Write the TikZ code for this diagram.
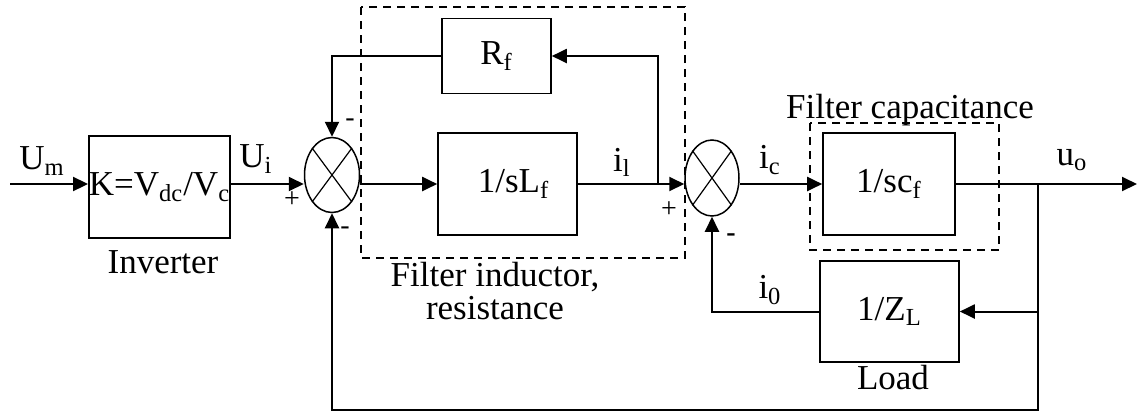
\documentclass[tikz,border=0pt]{standalone}
\usepackage{fontspec}
\setmainfont{Liberation Serif}
\usetikzlibrary{arrows.meta,shapes.geometric}
\begin{document}
\begin{tikzpicture}[x=0.5pt,y=-0.5pt,
  blk/.style={draw,line width=0.8pt,inner sep=0pt,align=center,font=\fontsize{17.5}{20}\selectfont},
  sumj/.style={draw,ellipse,line width=0.75pt,inner sep=0pt},
  lbl/.style={inner sep=0pt,font=\fontsize{17.5}{20}\selectfont},
  sgn/.style={inner sep=0pt,font=\fontsize{14}{16}\selectfont},
  dbox/.style={draw,line width=0.8pt,dash pattern=on 4pt off 3pt},
  con/.style={line width=1pt},
  arr/.style={con,-{Triangle[length=7.5pt,width=7pt]}}]
\useasboundingbox (0,0) rectangle (1137,414);
% dashed groups
\draw[dbox] (361,7) rectangle (685,258);
\draw[dbox] (810,123) rectangle (999,250);
% blocks
\node[blk,minimum width=67.5pt,minimum height=51pt] (inv) at (159.5,187) {K=V\textsubscript{dc}/V\textsubscript{c}};
\node[sumj,minimum width=27.5pt,minimum height=37.5pt] (s1) at (332,175) {};
\node[blk,minimum width=54.5pt,minimum height=37.5pt] (rf) at (496.5,56) {R\textsubscript{f}};
\node[blk,minimum width=69.5pt,minimum height=51pt] (lf) at (507.5,184) {\hspace{6pt}1/sL\textsubscript{f}};
\node[sumj,minimum width=27pt,minimum height=38pt] (s2) at (712,178) {};
\node[blk,minimum width=66pt,minimum height=51pt] (cf) at (889,184) {1/sc\textsubscript{f}};
\node[blk,minimum width=69.5pt,minimum height=50.5pt] (zl) at (889.5,311.5) {1/Z\textsubscript{L}};
% crosses in summing junctions
\draw[line width=0.6pt] (s1.north west) -- (s1.south east) (s1.north east) -- (s1.south west);
\draw[line width=0.6pt] (s2.north west) -- (s2.south east) (s2.north east) -- (s2.south west);
% coordinates
\coordinate (in) at (10,184);
\coordinate (b1) at (658,184);
\coordinate (b2) at (1038,184);
\coordinate (out) at (1137,184);
\coordinate (bot) at (1038,410);
% connectors
\draw[arr] (in) -- (in -| inv.west);
\draw[arr] (inv.east |- in) -- (in -| s1.west);
\draw[arr] (s1.east |- lf.west) -- (lf.west);
\draw[arr] (lf.east) -- (lf.east -| s2.west);
\draw[arr] (b1) |- (rf.east);
\draw[arr] (rf.west) -| (s1.north);
\draw[arr] (s2.east |- cf.west) -- (cf.west);
\draw[arr] (cf.east) -- (out);
\draw[arr] (b2) |- (zl.east);
\draw[arr] (zl.west) -| (s2.south);
\draw[arr] (b2) -- (bot) -| (s1.south);
% labels
\node[lbl] (lum) at (42,161) {U\textsubscript{m}};
\node[lbl] (lui) at (256,159) {U\textsubscript{i}};
\node[lbl] (linv) at (163,262) {Inverter};
\node[lbl] (lil) at (622,162) {i\textsubscript{l}};
\node[lbl] (lic) at (770,160) {i\textsubscript{c}};
\node[lbl] (luo) at (1072,160) {u\textsubscript{o}};
\node[lbl] (li0) at (770,290) {i\textsubscript{0}};
\node[lbl] (lload) at (893,378) {Load};
\node[lbl] (lfc) at (910,110) {Filter capacitance};
\node[lbl,align=center,font=\fontsize{17.5}{16.5}\selectfont] (lfi) at (495,291) {Filter inductor,\\resistance};
\node[sgn] (p1) at (292,200) {+};
\node[sgn] (p2) at (669,210) {+};
\node[sgn] (m1) at (350,123) {-};
\node[sgn] (m2) at (345,231) {-};
\node[sgn,font=\fontsize{14}{16}\bfseries] (m3) at (731,238) {-};
\end{tikzpicture}
\end{document}
